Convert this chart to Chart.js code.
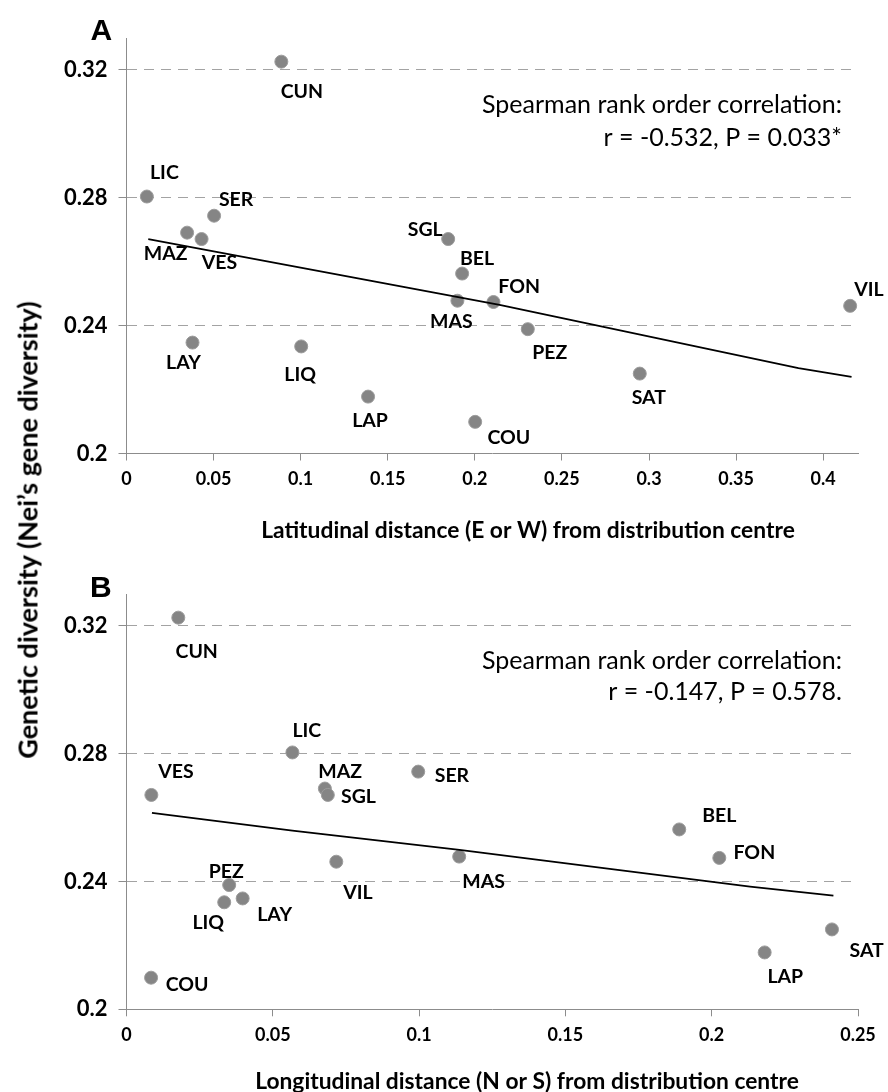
<!DOCTYPE html>
<html><head><meta charset="utf-8">
<script src="https://cdn.jsdelivr.net/npm/chart.js@4.4.1/dist/chart.umd.min.js"></script>
<style>
html,body{margin:0;padding:0;background:#fff;}
#wrap{position:relative;width:888px;height:1092px;overflow:hidden;background:#fff;}
.panel{position:absolute;left:0;width:888px;}
#ytitle{position:absolute;left:27px;top:530px;transform:translate(-50%,-50%) rotate(-90deg);font-family:Lato;font-weight:bold;font-size:27px;white-space:nowrap;color:#000;line-height:1;}
</style></head><body>
<div id="wrap">
<div class="panel" style="top:0;height:556px"><canvas id="cA" width="888" height="556"></canvas></div>
<div class="panel" style="top:556px;height:536px"><canvas id="cB" width="888" height="536"></canvas></div>
<div id="ytitle">Genetic diversity (Nei’s gene diversity)</div>
</div>
<script>
// ---- data ----
const populations   = ['CUN','LIC','SER','MAZ','VES','SGL','BEL','MAS','FON','VIL','PEZ','LAY','LIQ','SAT','LAP','COU'];
const geneDiversity = [0.3226,0.2804,0.2744,0.2691,0.2671,0.2671,0.2563,0.2478,0.2474,0.2462,0.2389,0.2347,0.2335,0.2250,0.2178,0.2099];
const latDistance   = [0.0889,0.0117,0.0503,0.0348,0.0431,0.1847,0.1927,0.1900,0.2107,0.4155,0.2304,0.0379,0.1003,0.2947,0.1387,0.2002];
const lonDistance   = [0.0177,0.0567,0.0997,0.0678,0.0085,0.0688,0.1889,0.1137,0.2026,0.0717,0.0351,0.0397,0.0334,0.2411,0.2181,0.0084];
const trendLatX = [0.0125,0.2142,0.3858,0.4163];
const trendLatY = [0.2671,0.2465,0.2267,0.2240];
const trendLonX = [0.0087,0.0567,0.1138,0.2131,0.2416];
const trendLonY = [0.2615,0.2559,0.2499,0.2384,0.2356];
const yTicks  = [0.2,0.24,0.28,0.32];
const xTicksA = [0,0.05,0.1,0.15,0.2,0.25,0.3,0.35,0.4];
const xTicksB = [0,0.05,0.1,0.15,0.2,0.25];
const noteA = ['Spearman rank order correlation:','r = -0.532, P = 0.033*'];
const noteB = ['Spearman rank order correlation:','r = -0.147, P = 0.578.'];
const titleA = 'Latitudinal distance (E or W) from distribution centre';
const titleB = 'Longitudinal distance (N or S) from distribution centre';

// ---- label placement (pixel offsets from marker) ----
const offsetsA = [[20.5,29.3],[17.5,-24.7],[22,-17],[-21.5,20],[17.8,22.7],[-23,-10],[15,-16],[-6,20],[25.7,-16],[18.7,-17],[22,23],[-9,19],[-1,27.8],[9,23],[2,23.3],[33.7,15]];
const offsetsB = [[18.4,33.5],[14.4,-22],[33.7,3.7],[15.3,-18],[24.5,-24.4],[30.7,1],[40,-14.4],[24.5,24.7],[35,-6],[21.7,30],[-3,-14.2],[32,15.3],[-16,20],[34.7,20.4],[20.6,23.5],[36,6]];

const fmt = v => String(parseFloat(Number(v).toFixed(3)));

const annot = {
  id:'annot',
  afterDatasetsDraw(chart, args, o){
    const ctx = chart.ctx;
    const meta = chart.getDatasetMeta(1);
    ctx.save();
    ctx.fillStyle = '#000';
    ctx.font = 'bold ' + o.labelSize + 'px Lato';
    ctx.textAlign = 'center';
    ctx.textBaseline = 'alphabetic';
    const capH = o.labelSize * 0.72;
    meta.data.forEach((pt, i) => {
      const d = o.offsets[i];
      ctx.fillText(populations[i], pt.x + d[0], pt.y + d[1] + capH / 2);
    });
    ctx.font = o.noteSize + 'px Lato';
    ctx.textAlign = 'right';
    o.note.forEach((line, k) => ctx.fillText(line, o.noteX, o.noteY[k]));
    ctx.font = 'bold 30px "Liberation Sans"';
    ctx.textAlign = 'left';
    ctx.fillText(o.letter, o.letterX, o.letterY);
    ctx.font = 'bold ' + o.titleSize + 'px Lato';
    ctx.textAlign = 'center';
    ctx.fillText(o.xTitle, o.titleX, o.titleY);
    ctx.restore();
  }
};

function makeChart(id, xs, tx, ty, xMax, xTicks, xAxisH, opts){
  const pts = xs.map((x, i) => ({x: x, y: geneDiversity[i]}));
  const trend = tx.map((x, i) => ({x: x, y: ty[i]}));
  return new Chart(document.getElementById(id), {
    type: 'scatter',
    data: {datasets: [
      {data: trend, showLine: true, borderColor: '#000', borderWidth: 1.8, pointRadius: 0, fill: false, tension: 0},
      {data: pts, pointRadius: 6.5, pointBackgroundColor: '#858585', pointBorderColor: '#9c9c9c', pointBorderWidth: 1}
    ]},
    options: {
      responsive: false, animation: false,
      layout: {padding: {left: 0, top: 38, right: 30, bottom: 0}},
      plugins: {legend: {display: false}, tooltip: {enabled: false}, annot: opts},
      scales: {
        x: {type: 'linear', min: 0, max: xMax,
          afterBuildTicks: s => { s.ticks = xTicks.map(v => ({value: v})); },
          afterFit: s => { s.height = xAxisH; },
          grid: {drawOnChartArea: false, drawTicks: true, tickLength: 7, tickColor: '#8c8c8c'},
          border: {color: '#8c8c8c', width: 1},
          ticks: {font: {family: 'Lato', weight: 'bold', size: 18}, color: '#000', padding: 8, maxRotation: 0, autoSkip: false, callback: v => fmt(v)}
        },
        y: {type: 'linear', min: 0.2, max: 0.33,
          afterBuildTicks: s => { s.ticks = yTicks.map(v => ({value: v})); },
          afterFit: s => { s.width = 126.5; },
          grid: {color: c => (c.tick && Math.abs(c.tick.value - 0.2) < 1e-9) ? 'rgba(0,0,0,0)' : '#a3a3a3', tickColor: '#8c8c8c', tickLength: 8, lineWidth: 1},
          border: {color: '#8c8c8c', width: 1, dash: [10, 7]},
          ticks: {font: {family: 'Lato', weight: 'bold', size: 22}, color: '#000', padding: 11, autoSkip: false, callback: v => fmt(v)}
        }
      }
    },
    plugins: [annot]
  });
}

makeChart('cA', latDistance, trendLatX, trendLatY, 0.42, xTicksA, 102.5, {
  offsets: offsetsA, labelSize: 19.5, note: noteA, noteSize: 25, noteX: 842, noteY: [113.3, 145.7],
  letter: 'A', letterX: 90.5, letterY: 39.5, xTitle: titleA, titleSize: 22.8, titleX: 528, titleY: 538
});
makeChart('cB', lonDistance, trendLonX, trendLonY, 0.25, xTicksB, 82.7, {
  offsets: offsetsB, labelSize: 19.5, note: noteB, noteSize: 25, noteX: 842, noteY: [112.5, 144],
  letter: 'B', letterX: 90, letterY: 40.7, xTitle: titleB, titleSize: 22.8, titleX: 527, titleY: 533
});
</script>
</body></html>
